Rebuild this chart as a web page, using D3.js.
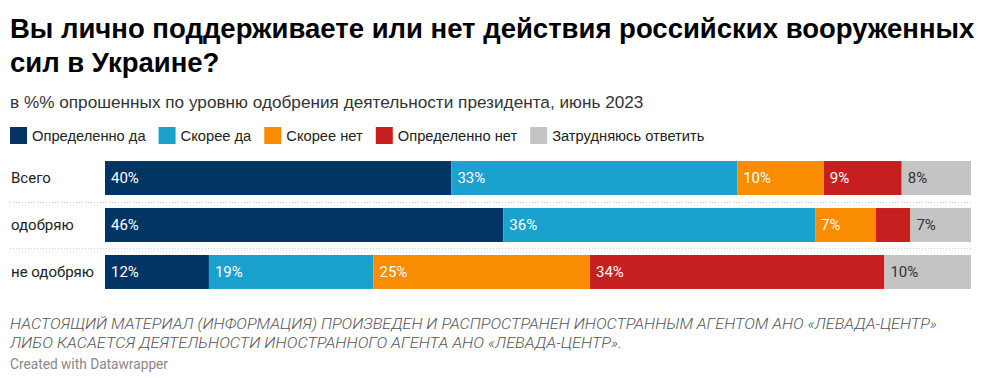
<!DOCTYPE html>
<html>
<head>
<meta charset="utf-8">
<script src="https://cdn.jsdelivr.net/npm/d3@7"></script>
<style>
  body { margin: 0; background: #fff; }
  svg text { font-family: Roboto, sans-serif; }
</style>
</head>
<body>
<svg width="983" height="380"></svg>
<script>
// chart data
var titleLines = ["Вы лично поддерживаете или нет действия российских вооруженных", "сил в Украине?"];
var subtitle = "в %% опрошенных по уровню одобрения деятельности президента, июнь 2023";
var seriesNames = ["Определенно да", "Скорее да", "Скорее нет", "Определенно нет", "Затрудняюсь ответить"];
var seriesColors = ["#003463", "#1aa1cd", "#f98c00", "#c71e1f", "#c4c4c4"];
var rowLabels = ["Всего", "одобряю", "не одобряю"];
var definitelyYes = [40, 46, 12];
var ratherYes = [33, 36, 19];
var ratherNo = [10, 7, 25];
var definitelyNo = [9, 4, 34];
var hardToSay = [8, 7, 10];
var notes = ["НАСТОЯЩИЙ МАТЕРИАЛ (ИНФОРМАЦИЯ) ПРОИЗВЕДЕН И РАСПРОСТРАНЕН ИНОСТРАННЫМ АГЕНТОМ АНО «ЛЕВАДА-ЦЕНТР»",
    "ЛИБО КАСАЕТСЯ ДЕЯТЕЛЬНОСТИ ИНОСТРАННОГО АГЕНТА АНО «ЛЕВАДА-ЦЕНТР»."];
var credit = "Created with Datawrapper";

var svg = d3.select("svg");
var sans = "'Liberation Sans', Arial, sans-serif";

// header
svg.selectAll("text.title")
    .data(titleLines)
    .enter()
    .append("text")
    .attr("class", "title")
    .attr("x", 10)
    .attr("y", function (d, i) { return 38 + i * 34; })
    .style("font-family", sans)
    .style("font-weight", "bold")
    .style("font-size", "27.5px")
    .attr("fill", "#000")
    .text(function (d) { return d; });

svg.append("text")
    .attr("x", 10)
    .attr("y", 108)
    .style("font-family", sans)
    .style("font-size", "17.2px")
    .attr("fill", "#333")
    .text(subtitle);

// legend
var legend = svg.append("g").attr("transform", "translate(10,127)");
var lx = 0;
seriesNames.forEach(function (name, i) {
    var item = legend.append("g").attr("transform", "translate(" + lx + ",0)");
    item.append("rect")
        .attr("width", 17)
        .attr("height", 17)
        .attr("fill", seriesColors[i]);
    var t = item.append("text")
        .attr("x", 22)
        .attr("y", 14)
        .style("font-family", sans)
        .style("font-size", "14.7px")
        .attr("fill", "#222")
        .text(name);
    lx += 22 + t.node().getComputedTextLength() + 13;
});

// bars
var rows = rowLabels.map(function (label, i) {
    var vals = [definitelyYes[i], ratherYes[i], ratherNo[i], definitelyNo[i], hardToSay[i]];
    var total = d3.sum(vals), acc = 0;
    return {
        label: label,
        segs: vals.map(function (v, k) {
            var s = { key: k, v: v, x0: acc / total * 100, x1: (acc + v) / total * 100 };
            acc += v;
            return s;
        })
    };
});

var x = d3.scaleLinear().domain([0, 100]).range([105, 971]);
var y = d3.scaleBand().domain(rowLabels).range([154, 296]).paddingInner(0.277).paddingOuter(0.15);

svg.selectAll("line.sep")
    .data(rowLabels.slice(1))
    .enter()
    .append("line")
    .attr("class", "sep")
    .attr("x1", 10)
    .attr("x2", 971)
    .attr("y1", function (d) { return Math.round(y(d) - y.step() * y.paddingInner() / 2) + 0.5; })
    .attr("y2", function (d) { return Math.round(y(d) - y.step() * y.paddingInner() / 2) + 0.5; })
    .attr("stroke", "#ccc")
    .attr("stroke-dasharray", "1,2");

var row = svg.selectAll("g.row")
    .data(rows)
    .enter()
    .append("g")
    .attr("class", "row")
    .attr("transform", function (d) { return "translate(0," + y(d.label) + ")"; });

row.append("text")
    .attr("x", 11)
    .attr("y", y.bandwidth() / 2 + 5)
    .style("font-size", "15px")
    .attr("fill", "#222")
    .text(function (d) { return d.label; });

var seg = row.selectAll("g.seg")
    .data(function (d) { return d.segs; })
    .enter()
    .append("g")
    .attr("class", "seg");

seg.append("rect")
    .attr("x", function (d) { return x(d.x0); })
    .attr("width", function (d) { return x(d.x1) - x(d.x0); })
    .attr("height", y.bandwidth())
    .attr("fill", function (d) { return seriesColors[d.key]; });

seg.filter(function (d) { return x(d.x1) - x(d.x0) > 40; })
    .append("text")
    .attr("x", function (d) { return x(d.x0) + 6; })
    .attr("y", y.bandwidth() / 2 + 5)
    .style("font-size", "15px")
    .attr("fill", function (d) { return d.key === 4 ? "#333" : "#fff"; })
    .text(function (d) { return d.v + "%"; });

// notes
svg.selectAll("text.note")
    .data(notes)
    .enter()
    .append("text")
    .attr("class", "note")
    .attr("x", 10)
    .attr("y", function (d, i) { return 329 + i * 18.5; })
    .style("font-size", "15px")
    .style("font-style", "italic")
    .style("font-weight", 300)
    .attr("fill", "#555")
    .attr("textLength", function (d, i) { return i === 0 ? 927 : 612; })
    .attr("lengthAdjust", "spacingAndGlyphs")
    .text(function (d) { return d; });

svg.append("text")
    .attr("x", 10)
    .attr("y", 369)
    .style("font-size", "14px")
    .attr("fill", "#888")
    .attr("textLength", 158)
    .attr("lengthAdjust", "spacingAndGlyphs")
    .text(credit);
</script>
</body>
</html>
